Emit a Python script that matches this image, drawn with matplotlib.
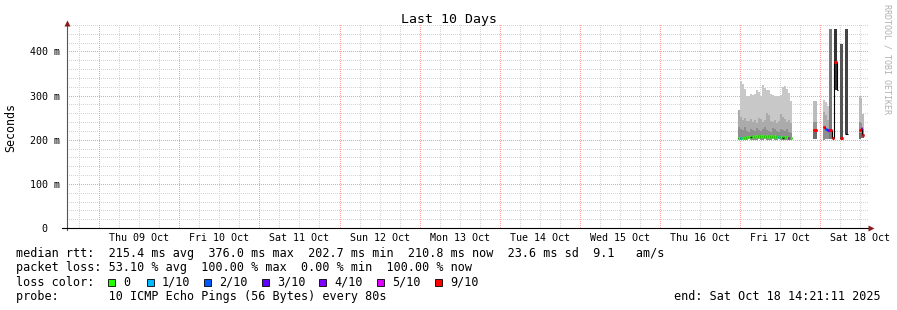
import numpy as np
import matplotlib
matplotlib.use("Agg")
import matplotlib.pyplot as plt
from matplotlib.colors import to_rgba
from matplotlib.lines import Line2D
from matplotlib.patches import Rectangle

W, H = 897, 310
MONO = "DejaVu Sans Mono"

# time axis in hours since Thu 09 Oct 00:00 (graph ends Sat 18 Oct 14:21)
T_START, T_END = -9.65, 230.35
DAYS = ["Thu 09 Oct", "Fri 10 Oct", "Sat 11 Oct", "Sun 12 Oct", "Mon 13 Oct",
        "Tue 14 Oct", "Wed 15 Oct", "Thu 16 Oct", "Fri 17 Oct", "Sat 18 Oct"]
Y_TICKS = [0, 100, 200, 300, 400]
Y_LABELS = ["0  ", "100 m", "200 m", "300 m", "400 m"]

# --- Fri 17 Oct block (ms), 36 min bins
t17 = [191.5, 192.1, 192.7, 193.3, 193.9, 194.5, 195.1, 195.7, 196.3, 196.9,
       197.5, 198.1, 198.7, 199.3, 199.9, 200.5, 201.1, 201.7, 202.3, 202.9,
       203.5, 204.1, 204.7, 205.3, 205.9, 206.5, 207.1]
min17 = [200, 200, 201, 200, 200, 201, 200, 199, 200, 200, 201, 200, 200, 201,
         200, 200, 200, 201, 200, 200, 201, 200, 200, 199, 200, 200, 200]
low17 = [230, 225, 222, 228, 220, 218, 224, 222, 220, 226, 223, 220, 225, 228,
         222, 220, 218, 226, 224, 220, 218, 225, 222, 220, 224, 218, 216]
mid17 = [268, 252, 245, 250, 243, 242, 248, 240, 244, 238, 250, 247, 240, 245,
         260, 255, 243, 240, 245, 238, 242, 258, 252, 247, 240, 245, 238]
max17 = [268, 333, 326, 315, 300, 298, 303, 302, 304, 312, 308, 300, 325, 318,
         312, 312, 303, 302, 300, 298, 300, 302, 320, 322, 315, 305, 288]
med17 = [204, 204, 205, 205, 206, 207, 206, 207, 208, 208, 207, 208, 208, 207,
         208, 207, 208, 207, 208, 207, 207, 206, 205, 206, 206, 204, 205]
loss17 = [0, 1, 0, 0, 0, 0, 10, 0, 0, 0, 0, 0, 0, 0,
          0, 0, 0, 0, 0, 0, 1, 0, 10, 0, 0, 5, 0]

# --- Sat 18 Oct block (ms), irregular bins
t18_start = [213.9, 216.8, 217.5, 218.1, 218.8, 219.5, 220.1, 221.1, 222.1, 223.5, 227.6, 228.2, 228.5]
t18_end = [215.0, 217.5, 218.1, 218.8, 219.5, 220.1, 221.1, 221.4, 222.9, 224.4, 228.2, 228.5, 229.1]
min18 = [201, 200, 201, 202, 201, np.nan, 312, np.nan, 201, 214, 202, 204, 205]
low18 = [218, 225, 222, 220, 452, np.nan, 452, np.nan, 416, 452, 215, 215, 209]
mid18 = [240, 262, 255, 245, 452, np.nan, 452, np.nan, 416, 452, 240, 238, 225]
max18 = [288, 291, 285, 276, 452, np.nan, 452, np.nan, 416, 452, 300, 295, 258]
med18 = [223, 229, 225, 221, 221, 203, 376, 312, 203, 214, 221, 227, 210]
loss18 = [9, 9, 2, 3, 9, 9, 9, 10, 9, 10, 9, 5, 9]

LOSS_COLORS = {0: "#26ff00", 1: "#00b8ff", 2: "#0059ff", 3: "#5e00ff", 4: "#7e00ff",
               5: "#dd00ff", 6: "#ff0000", 7: "#ff0000", 8: "#ff0000", 9: "#ff0000"}
LEGEND = [("0", 0), ("1/10", 1), ("2/10", 2), ("3/10", 3), ("4/10", 4), ("5/10", 5), ("9/10", 9)]

# smoke shades (light, mid, dark) per bin
NORMAL = ("#c8c8c8", "#ababab", "#8e8e8e")
DARKER = ("#bcbcbc", "#949494", "#6c6c6c")
tones = [NORMAL] * len(t17) + [
    DARKER, NORMAL, NORMAL, NORMAL, ("#7a7a7a",) * 3, NORMAL, ("#333333",) * 3,
    NORMAL, ("#555555",) * 3, ("#444444",) * 3, DARKER, DARKER, DARKER]

starts = np.array(t17 + t18_start)
ends = np.array([t + 0.6 for t in t17] + t18_end)
mins = np.array(min17 + min18, dtype=float)
lows = np.array(low17 + low18, dtype=float)
mids = np.array(mid17 + mid18, dtype=float)
maxs = np.array(max17 + max18, dtype=float)
meds = np.array(med17 + med18, dtype=float)
losses = loss17 + loss18


def fx(x):
    return x / W


def fy(y):
    return 1 - y / H


fig = plt.figure(figsize=(W / 100, H / 100), dpi=100)
fig.patch.set_facecolor("white")
ax = fig.add_axes([fx(67), fy(228), fx(868) - fx(67), fy(25) - fy(228)])
ax.set_xlim(T_START, T_END)
ax.set_ylim(0, 460)
ax.patch.set_visible(False)
for s in ax.spines.values():
    s.set_visible(False)

# grid: 1px-on/1px-off dotted, minor 20 ms / 6 h, major 100 ms / midnight.
# painted pixel-exact as a figure image under the axes
MINOR = (np.array(to_rgba("#d4d4d4")) * 255).astype(np.uint8)
MAJOR = (np.array(to_rgba("#ff9a9a")) * 255).astype(np.uint8)
grid = np.zeros((H, W, 4), dtype=np.uint8)
x0, x1 = ax.transData.transform([(T_START, 0), (T_END, 0)])[:, 0].round().astype(int)
ytop = H - int(round(ax.transData.transform((0, 460))[1]))
ybot = H - int(round(ax.transData.transform((0, 0))[1]))
for v in range(20, 461, 20):
    r = H - int(round(ax.transData.transform((0, v))[1]))
    r = min(max(r, 0), H - 1)
    grid[r, x0:x1:2] = MAJOR if v % 100 == 0 else MINOR
for h in range(-6, 231, 6):
    c = int(round(ax.transData.transform((h, 0))[0]))
    grid[ytop:ybot:2, c] = MAJOR if h % 24 == 0 else MINOR
fig.figimage(grid, xo=0, yo=0, origin="upper", zorder=-1, interpolation="nearest")

# smoke
ok = ~np.isnan(mins)
wid = ends - starts
for k, hi in enumerate([maxs, mids, lows]):
    cols = [tones[i][k] for i in range(len(tones)) if ok[i]]
    ax.bar(starts[ok], hi[ok] - mins[ok], width=wid[ok], bottom=mins[ok],
           align="edge", color=cols, lw=0, zorder=2 + k * 0.1)

# median: thin black step underneath, loss-coloured segments on top
for i in range(len(meds)):
    ax.hlines(meds[i], starts[i], ends[i], color="black", lw=0.8, zorder=3)
    if i > 0 and abs(starts[i] - ends[i - 1]) < 1e-6:
        ax.vlines(starts[i], meds[i - 1], meds[i], color="black", lw=0.8, zorder=3)
for i in range(len(meds)):
    if losses[i] in LOSS_COLORS:
        ax.hlines(meds[i], starts[i], ends[i], color=LOSS_COLORS[losses[i]],
                  lw=2.2, zorder=4)

ax.set_yticks(Y_TICKS, Y_LABELS, family=MONO, fontsize=7.2)
ax.set_xticks([12 + 24 * k for k in range(len(DAYS))], DAYS, family=MONO, fontsize=7.2)
ax.tick_params(axis="both", length=0)
ax.tick_params(axis="y", pad=5)
ax.tick_params(axis="x", pad=3.4)

# axes lines and arrows
fig.add_artist(Line2D([fx(67), fx(67)], [fy(230), fy(23)], color="#555555", lw=0.8))
fig.add_artist(Line2D([fx(62), fx(870)], [fy(228), fy(228)], color="black", lw=0.8))
fig.add_artist(Line2D([fx(67)], [fy(23)], marker="^", ms=4.5, color="#8b1a1a", mec="none"))
fig.add_artist(Line2D([fx(871)], [fy(228)], marker=">", ms=4.5, color="#8b1a1a", mec="none"))

fig.text(0.5, fy(19.5), "Last 10 Days", family=MONO, fontsize=9.5, ha="center", va="center")
fig.text(fx(11), fy(127), "Seconds", family=MONO, fontsize=8.4, rotation=90,
         ha="center", va="center")
fig.text(fx(887), fy(59), "RRDTOOL / TOBI OETIKER", family=MONO, fontsize=6,
         rotation=270, color="#b0b0b0", ha="center", va="center")

# legend
LX = fx(16)
fs = 8.5
fig.text(LX, fy(254), "median rtt:  215.4 ms avg  376.0 ms max  202.7 ms min  210.8 ms now  23.6 ms sd  9.1   am/s",
         family=MONO, fontsize=fs, va="center")
fig.text(LX, fy(268), "packet loss: 53.10 % avg  100.00 % max  0.00 % min  100.00 % now",
         family=MONO, fontsize=fs, va="center")
fig.text(LX, fy(282), "loss color:", family=MONO, fontsize=fs, va="center")
box_x = [108, 147, 204, 262, 319, 377, 435]
for bx, (lab, lv) in zip(box_x, LEGEND):
    fig.add_artist(Rectangle((fx(bx), fy(286)), 7 / W, 7 / H, transform=fig.transFigure,
                             facecolor=LOSS_COLORS[lv], edgecolor="black", lw=0.6))
    fig.text(fx(bx + 15), fy(282), lab, family=MONO, fontsize=fs, va="center")
fig.text(LX, fy(296.5), "probe:       10 ICMP Echo Pings (56 Bytes) every 80s",
         family=MONO, fontsize=fs, va="center")
fig.text(fx(881), fy(296.5), "end: Sat Oct 18 14:21:11 2025", family=MONO, fontsize=fs,
         ha="right", va="center")

fig.savefig("out.png", dpi=100)
